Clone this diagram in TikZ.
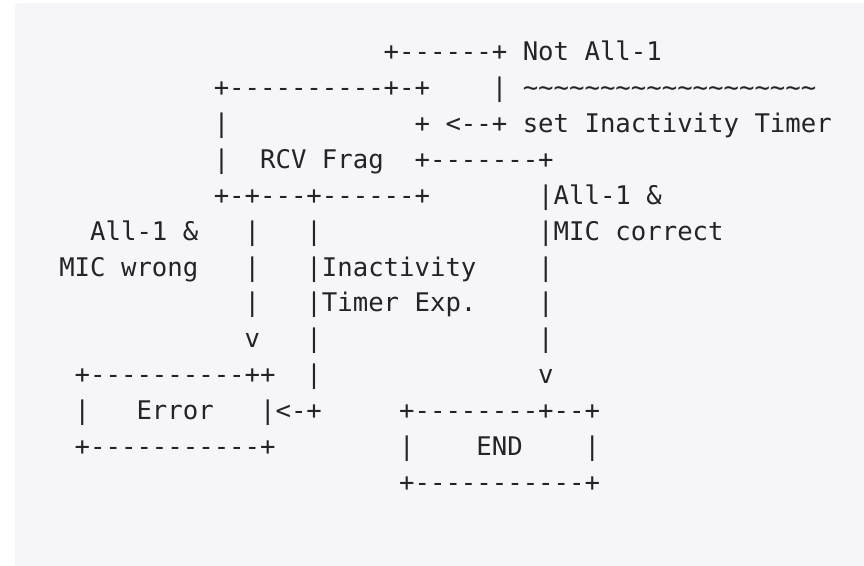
\documentclass[tikz,border=0pt]{standalone}
\usepackage{fontspec}
\setmonofont{DejaVu Sans Mono}
\definecolor{pagebg}{RGB}{245,245,250}
\definecolor{ink}{RGB}{36,36,36}
\tikzset{
  ascii/.style={anchor=base west, inner sep=0pt, outer sep=0pt, text=ink,
    font=\ttfamily\fontsize{19.25pt}{20pt}\selectfont},
}
\newcommand{\squiggle}{\detokenize{~~~~~~~~~~~~~~~~~~~}}
\begin{document}
\begin{tikzpicture}[x=0.75pt,y=-0.75pt]
  \useasboundingbox (0,0) rectangle (864,565);
  \fill[pagebg, rounded corners=3pt] (15,3) rectangle (880,580);
  % one unit = one character cell, one row = one text line
  \begin{scope}[shift={(43.8,60.5)}, x=11.5875pt, y=-26.94pt]
    \node[ascii] (loopTop) at (22,0) {+------+ Not All-1};
    \node[ascii] (rcvTop) at (11,1) {+----------+-+};
    \node[ascii] (loopBar) at (29,1) {| \squiggle};
    \node[ascii] (rcvLeftA) at (11,2) {|};
    \node[ascii] (loopBack) at (24,2) {+ <--+ set Inactivity Timer};
    \node[ascii] (rcvLeftB) at (11,3) {|};
    \node[ascii] (rcv) at (14,3) {RCV Frag};
    \node[ascii] (toEnd) at (24,3) {+-------+};
    \node[ascii] (rcvBottom) at (11,4) {+-+---+------+};
    \node[ascii] (okA) at (32,4) {|All-1 \&};
    % the three ways out
    \node[ascii] (wrongA) at (3,5) {All-1 \&};
    \node[ascii] (errBarA) at (13,5) {|};
    \node[ascii] (expBarA) at (17,5) {|};
    \node[ascii] (okB) at (32,5) {|MIC correct};
    \node[ascii] (wrongB) at (1,6) {MIC wrong};
    \node[ascii] (errBarB) at (13,6) {|};
    \node[ascii] (expA) at (17,6) {|Inactivity};
    \node[ascii] (okBarA) at (32,6) {|};
    \node[ascii] (errBarC) at (13,7) {|};
    \node[ascii] (expB) at (17,7) {|Timer Exp.};
    \node[ascii] (okBarB) at (32,7) {|};
    \node[ascii] (errHead) at (13,8) {v};
    \node[ascii] (expBarB) at (17,8) {|};
    \node[ascii] (okBarC) at (32,8) {|};
    % Error and END boxes
    \node[ascii] (errTop) at (2,9) {+----------++};
    \node[ascii] (expBarC) at (17,9) {|};
    \node[ascii] (okHead) at (32,9) {v};
    \node[ascii] (errLeft) at (2,10) {|};
    \node[ascii] (err) at (6,10) {Error};
    \node[ascii] (errIn) at (14,10) {|<-+};
    \node[ascii] (endTop) at (23,10) {+--------+--+};
    \node[ascii] (errBottom) at (2,11) {+-----------+};
    \node[ascii] (endLeft) at (23,11) {|};
    \node[ascii] (end) at (28,11) {END};
    \node[ascii] (endRight) at (35,11) {|};
    \node[ascii] (endBottom) at (23,12) {+-----------+};
  \end{scope}
\end{tikzpicture}
\end{document}
